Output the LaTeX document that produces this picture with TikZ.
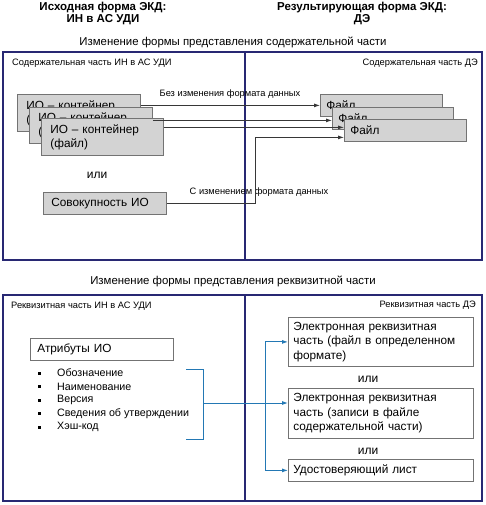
\documentclass[tikz,border=0pt]{standalone}
\usepackage{fontspec}
\setmainfont{Liberation Sans}
\usetikzlibrary{arrows.meta}
\definecolor{framec}{RGB}{40,40,115}
\definecolor{boxfill}{RGB}{211,211,211}
\definecolor{boxline}{RGB}{115,115,115}
\definecolor{arrc}{RGB}{55,55,55}
\definecolor{bluec}{RGB}{35,120,180}
\begin{document}
\begin{tikzpicture}[x=1pt,y=-1pt,
  frame/.style={draw=framec,line width=1.3pt},
  graybox/.style={draw=boxline,fill=boxfill,line width=0.8pt,rectangle,anchor=north west,inner ysep=0pt,align=left,font=\fontsize{11.8}{14}\selectfont},
  whitebox/.style={draw=boxline,fill=white,line width=0.8pt,rectangle,anchor=north west,inner ysep=0pt,align=left,font=\fontsize{11.8}{14.5}\selectfont},
  title/.style={font=\fontsize{11.5}{12}\selectfont\bfseries,align=center,inner sep=0pt},
  head/.style={font=\fontsize{11.4}{12}\selectfont,inner sep=0pt},
  small/.style={font=\fontsize{9.3}{10}\selectfont,inner sep=0pt},
  plain/.style={font=\fontsize{12}{13}\selectfont,inner sep=0pt},
  arr/.style={draw=arrc,line width=0.8pt,-{Latex[length=6pt,width=4pt]}},
  barr/.style={draw=bluec,line width=0.9pt,-{Latex[length=6pt,width=4pt]}},
  bline/.style={draw=bluec,line width=0.9pt}
]
\useasboundingbox (0,0) rectangle (485,505);
\fill[white] (0,0) rectangle (485,505);

% titles
\node[title] (t1) at (103,13) {Исходная форма ЭКД:\\ИН в АС УДИ};
\node[title] (t2) at (362,13) {Результирующая форма ЭКД:\\ДЭ};
\node[head] (h1) at (233,42) {Изменение формы представления содержательной части};

% top frame
\draw[frame] (3,52) rectangle (482,260);
\draw[frame] (245,52) -- (245,260);
\node[small,anchor=west] (l1) at (12,63) {Содержательная часть ИН в АС УДИ};
\node[small,anchor=east] (l2) at (478,63) {Содержательная часть ДЭ};

% IO boxes
\node[graybox,inner xsep=9pt,minimum width=123pt,minimum height=37pt,text width=123pt-18pt] (io1) at (17,94) {ИО – контейнер\\(файл)};
\node[graybox,inner xsep=9pt,minimum width=123pt,minimum height=36pt,text width=123pt-18pt] (io2) at (29,107) {ИО – контейнер\\(файл)};
\node[graybox,inner xsep=9pt,minimum width=122pt,minimum height=37pt,text width=122pt-18pt] (io3) at (41,118) {ИО – контейнер\\(файл)};

% files
\node[graybox,inner xsep=6pt,minimum width=122pt,minimum height=22pt,text width=122pt-12pt] (f1) at (320,94) {Файл};
\node[graybox,inner xsep=6pt,minimum width=121pt,minimum height=22pt,text width=121pt-12pt] (f2) at (332,107) {Файл};
\node[graybox,inner xsep=6pt,minimum width=122pt,minimum height=22pt,text width=122pt-12pt] (f3) at (344,119) {Файл};

\node[small] (bez) at (230,94) {Без изменения формата данных};
\node[plain] (ili1) at (97,175) {или};
\node[graybox,inner xsep=8pt,minimum width=123pt,minimum height=22pt,text width=123pt-16pt] (sov) at (43,192) {Совокупность ИО};
\node[small] (sizm) at (259,192) {С изменением формата данных};

\draw[arr] (io1.east |- f1.west) -- (f1.west);
\draw[arr] ([yshift=-2pt]io2.east |- f2.west) -- ([yshift=-2pt]f2.west);
\draw[arr] ([yshift=3pt]io3.east |- f3.west) -- ([yshift=3pt]f3.west);
\draw[arr] (sov.east) -- ++(89,0) |- ([yshift=-7pt]f3.west);

% bottom
\node[head] (h2) at (233,281) {Изменение формы представления реквизитной части};
\draw[frame] (3,295) rectangle (482,501);
\draw[frame] (245,295) -- (245,501);
\node[small,anchor=west] (l3) at (11,306) {Реквизитная часть ИН в АС УДИ};
\node[small,anchor=east] (l4) at (476,305) {Реквизитная часть ДЭ};

\node[whitebox,inner xsep=7pt,minimum width=143pt,minimum height=22pt,text width=143pt-14pt] (attr) at (30,338) {Атрибуты ИО};

\foreach \t [count=\i] in {Обозначение,Наименование,Версия,Сведения об утверждении,Хэш-код}{
  \node[font=\fontsize{10.7}{12}\selectfont,anchor=west,inner sep=0pt] (item\i) at (57,{373+13.5*(\i-1)}) {\t};
  \fill (37.5,{371.5+13.5*(\i-1)}) rectangle ++(3.2,3.2);
}

\coordinate (brk) at (203,403);
\draw[bline] (186,369) -- (203,369) -- (203,439) -- (186,439);

\node[whitebox,inner xsep=5pt,minimum width=185pt,minimum height=49pt,text width=185pt-10pt] (eA) at (288,317) {Электронная реквизитная\\часть (файл в определенном\\формате)};
\node[plain] (ili2) at (368,379) {или};
\node[whitebox,inner xsep=5pt,minimum width=185pt,minimum height=50pt,text width=185pt-10pt] (eB) at (288,388) {Электронная реквизитная\\часть (записи в файле\\содержательной части)};
\node[plain] (ili3) at (368,451) {или};
\node[whitebox,inner xsep=5pt,minimum width=185pt,minimum height=22pt,text width=185pt-10pt] (eC) at (288,459) {Удостоверяющий лист};

\coordinate (jn) at (265,403);
\draw[barr] (brk) -- (brk -| eB.west);
\draw[barr] (jn) |- (eA.west);
\draw[barr] (jn) |- (eC.west);
\end{tikzpicture}
\end{document}
